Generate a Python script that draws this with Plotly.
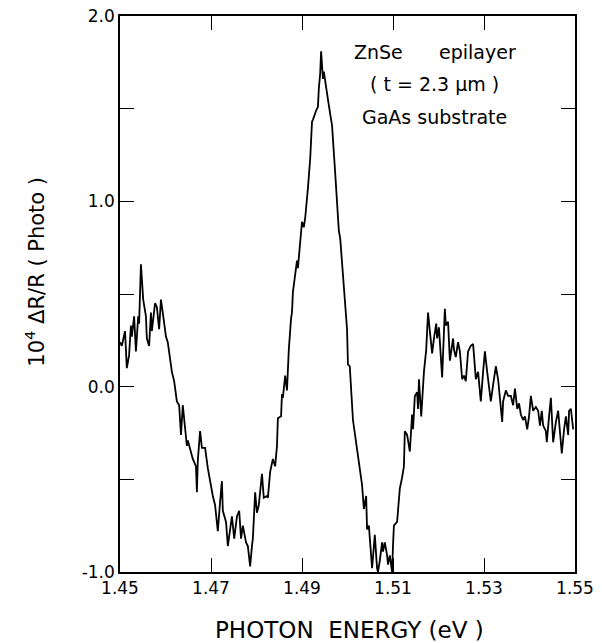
import plotly.graph_objects as go

# Photon energy (eV) and 10^4 dR/R (Photo)
energy = [
    1.4500, 1.4504, 1.4511, 1.4515, 1.4520, 1.4524, 1.4526, 1.4531, 1.4535, 1.4540,
    1.4542, 1.4546, 1.4551, 1.4557, 1.4559, 1.4564, 1.4568, 1.4570, 1.4577, 1.4581,
    1.4586, 1.4590, 1.4595, 1.4601, 1.4605, 1.4610, 1.4614, 1.4619, 1.4625, 1.4630,
    1.4634, 1.4638, 1.4643, 1.4647, 1.4649, 1.4656, 1.4660, 1.4667, 1.4669, 1.4671,
    1.4676, 1.4680, 1.4687, 1.4693, 1.4698, 1.4704, 1.4709, 1.4715, 1.4720, 1.4724,
    1.4726, 1.4733, 1.4737, 1.4742, 1.4746, 1.4751, 1.4757, 1.4762, 1.4766, 1.4770,
    1.4777, 1.4781, 1.4786, 1.4790, 1.4792, 1.4797, 1.4801, 1.4805, 1.4812, 1.4816,
    1.4823, 1.4825, 1.4830, 1.4836, 1.4841, 1.4845, 1.4847, 1.4854, 1.4856, 1.4858,
    1.4863, 1.4867, 1.4871, 1.4876, 1.4878, 1.4880, 1.4885, 1.4889, 1.4891, 1.4896,
    1.4900, 1.4904, 1.4907, 1.4913, 1.4918, 1.4922, 1.4924, 1.4931, 1.4935, 1.4937,
    1.4940, 1.4942, 1.4944, 1.4946, 1.4948, 1.4953, 1.4955, 1.4957, 1.4962, 1.4966,
    1.4973, 1.4977, 1.4979, 1.4981, 1.4984, 1.4988, 1.4990, 1.4995, 1.4999, 1.5001,
    1.5005, 1.5012, 1.5023, 1.5032, 1.5036, 1.5041, 1.5043, 1.5047, 1.5054, 1.5056,
    1.5060, 1.5065, 1.5067, 1.5071, 1.5076, 1.5078, 1.5082, 1.5087, 1.5089, 1.5093,
    1.5098, 1.5100, 1.5102, 1.5109, 1.5111, 1.5115, 1.5120, 1.5124, 1.5126, 1.5131,
    1.5135, 1.5137, 1.5142, 1.5144, 1.5148, 1.5153, 1.5155, 1.5157, 1.5162, 1.5166,
    1.5168, 1.5173, 1.5177, 1.5181, 1.5186, 1.5190, 1.5195, 1.5197, 1.5201, 1.5208,
    1.5210, 1.5214, 1.5216, 1.5221, 1.5225, 1.5232, 1.5234, 1.5238, 1.5243, 1.5247,
    1.5252, 1.5256, 1.5260, 1.5265, 1.5271, 1.5276, 1.5278, 1.5282, 1.5287, 1.5289,
    1.5293, 1.5298, 1.5302, 1.5307, 1.5311, 1.5315, 1.5320, 1.5326, 1.5331, 1.5335,
    1.5340, 1.5342, 1.5348, 1.5353, 1.5359, 1.5364, 1.5368, 1.5373, 1.5377, 1.5381,
    1.5386, 1.5390, 1.5395, 1.5399, 1.5403, 1.5408, 1.5414, 1.5419, 1.5423, 1.5427,
    1.5430, 1.5436, 1.5438, 1.5443, 1.5447, 1.5452, 1.5458, 1.5463, 1.5467, 1.5471,
    1.5476, 1.5480, 1.5485, 1.5487, 1.5491, 1.5496,
]
signal = [
    0.24, 0.22, 0.30, 0.10, 0.17, 0.33, 0.27, 0.38, 0.19, 0.38,
    0.34, 0.66, 0.47, 0.38, 0.26, 0.22, 0.40, 0.30, 0.45, 0.43,
    0.31, 0.47, 0.38, 0.27, 0.24, 0.15, 0.08, 0.03, -0.08, -0.10,
    -0.26, -0.10, -0.23, -0.32, -0.29, -0.35, -0.39, -0.43, -0.57, -0.40,
    -0.24, -0.33, -0.33, -0.44, -0.51, -0.59, -0.64, -0.78, -0.62, -0.51,
    -0.67, -0.73, -0.86, -0.77, -0.70, -0.82, -0.70, -0.67, -0.82, -0.75,
    -0.84, -0.86, -0.97, -0.86, -0.82, -0.57, -0.68, -0.64, -0.47, -0.60,
    -0.59, -0.60, -0.46, -0.39, -0.43, -0.32, -0.17, -0.16, -0.04, -0.06,
    0.06, -0.02, 0.20, 0.37, 0.40, 0.51, 0.60, 0.68, 0.64, 0.77,
    0.89, 0.86, 0.91, 1.07, 1.23, 1.43, 1.44, 1.49, 1.51, 1.61,
    1.69, 1.81, 1.74, 1.66, 1.70, 1.60, 1.58, 1.55, 1.47, 1.41,
    1.15, 0.96, 0.87, 0.84, 0.80, 0.66, 0.58, 0.42, 0.31, 0.12,
    0.11, -0.18, -0.37, -0.53, -0.66, -0.59, -0.77, -0.75, -0.98, -0.91,
    -0.80, -0.98, -1.00, -0.94, -0.84, -0.89, -0.84, -0.91, -0.96, -0.91,
    -1.00, -0.86, -0.75, -0.73, -0.67, -0.55, -0.49, -0.43, -0.24, -0.26,
    -0.32, -0.35, -0.15, -0.23, -0.05, -0.03, -0.12, 0.04, -0.16, 0.06,
    0.08, 0.20, 0.40, 0.30, 0.18, 0.26, 0.34, 0.26, 0.32, 0.05,
    0.17, 0.42, 0.33, 0.35, 0.14, 0.26, 0.20, 0.16, 0.24, 0.19,
    0.04, 0.06, 0.03, 0.19, 0.22, 0.23, 0.17, 0.04, 0.08, 0.01,
    -0.08, 0.08, 0.19, 0.08, -0.01, -0.08, 0.01, 0.11, 0.04, -0.06,
    -0.19, -0.08, -0.02, -0.05, -0.05, -0.10, -0.01, -0.12, -0.09, -0.15,
    -0.18, -0.16, -0.23, -0.16, -0.05, -0.13, -0.11, -0.13, -0.21, -0.13,
    -0.21, -0.24, -0.30, -0.16, -0.06, -0.30, -0.19, -0.13, -0.26, -0.36,
    -0.23, -0.16, -0.26, -0.13, -0.12, -0.23,
]

x_ticks = [1.45, 1.47, 1.49, 1.51, 1.53, 1.55]
x_ticklabels = ["1.45", "1.47", "1.49", "1.51", "1.53", "1.55"]
y_ticks = [-1.0, -0.5, 0.0, 0.5, 1.0, 1.5, 2.0]
y_ticklabels = ["-1.0", "", "0.0", "", "1.0", "", "2.0"]

NB = "&nbsp;"
x_title = "PHOTON" + NB * 2 + "ENERGY (eV )"
y_title = "10<sup>4</sup> ΔR/R ( Photo )"
sample_lines = ["ZnSe" + NB * 6 + "epilayer", "(" + NB + "t = 2.3 μm" + NB + ")", "GaAs substrate"]

FONT = "DejaVu Sans"

fig = go.Figure()
fig.add_trace(go.Scatter(
    x=energy, y=signal, mode="lines",
    line=dict(color="black", width=1.8),
    showlegend=False, hoverinfo="skip",
))

axis_common = dict(
    showline=True, linecolor="black", linewidth=1.5, mirror="ticks",
    ticks="inside", tickcolor="black", tickwidth=1.3, ticklen=14,
    showgrid=False, zeroline=False, automargin=False,
    tickfont=dict(family=FONT, size=17, color="black"),
)

fig.update_layout(
    width=602, height=643,
    margin=dict(l=120, r=27, t=16, b=71),
    paper_bgcolor="white", plot_bgcolor="white",
    font=dict(family=FONT, color="black"),
    xaxis=dict(range=[1.45, 1.55], tickvals=x_ticks, ticktext=x_ticklabels, **axis_common),
    yaxis=dict(range=[-1.0, 2.0], tickvals=y_ticks, ticktext=y_ticklabels, **axis_common),
)

fig.add_annotation(
    text=x_title, xref="paper", yref="paper", x=0.505, y=-0.104,
    xanchor="center", yanchor="middle",
    showarrow=False, font=dict(family=FONT, size=23, color="black"),
)

fig.add_annotation(
    text=y_title, textangle=-90,
    xref="paper", yref="paper", x=-0.187, y=0.54,
    xanchor="center", yanchor="middle",
    showarrow=False, font=dict(family=FONT, size=21, color="black"),
)

for line, ypos in zip(sample_lines, [0.936, 0.877, 0.818]):
    fig.add_annotation(
        text=line, xref="paper", yref="paper", x=0.692, y=ypos,
        xanchor="center", yanchor="middle",
        showarrow=False, font=dict(family=FONT, size=19, color="black"),
    )

fig.write_html("out.html")
